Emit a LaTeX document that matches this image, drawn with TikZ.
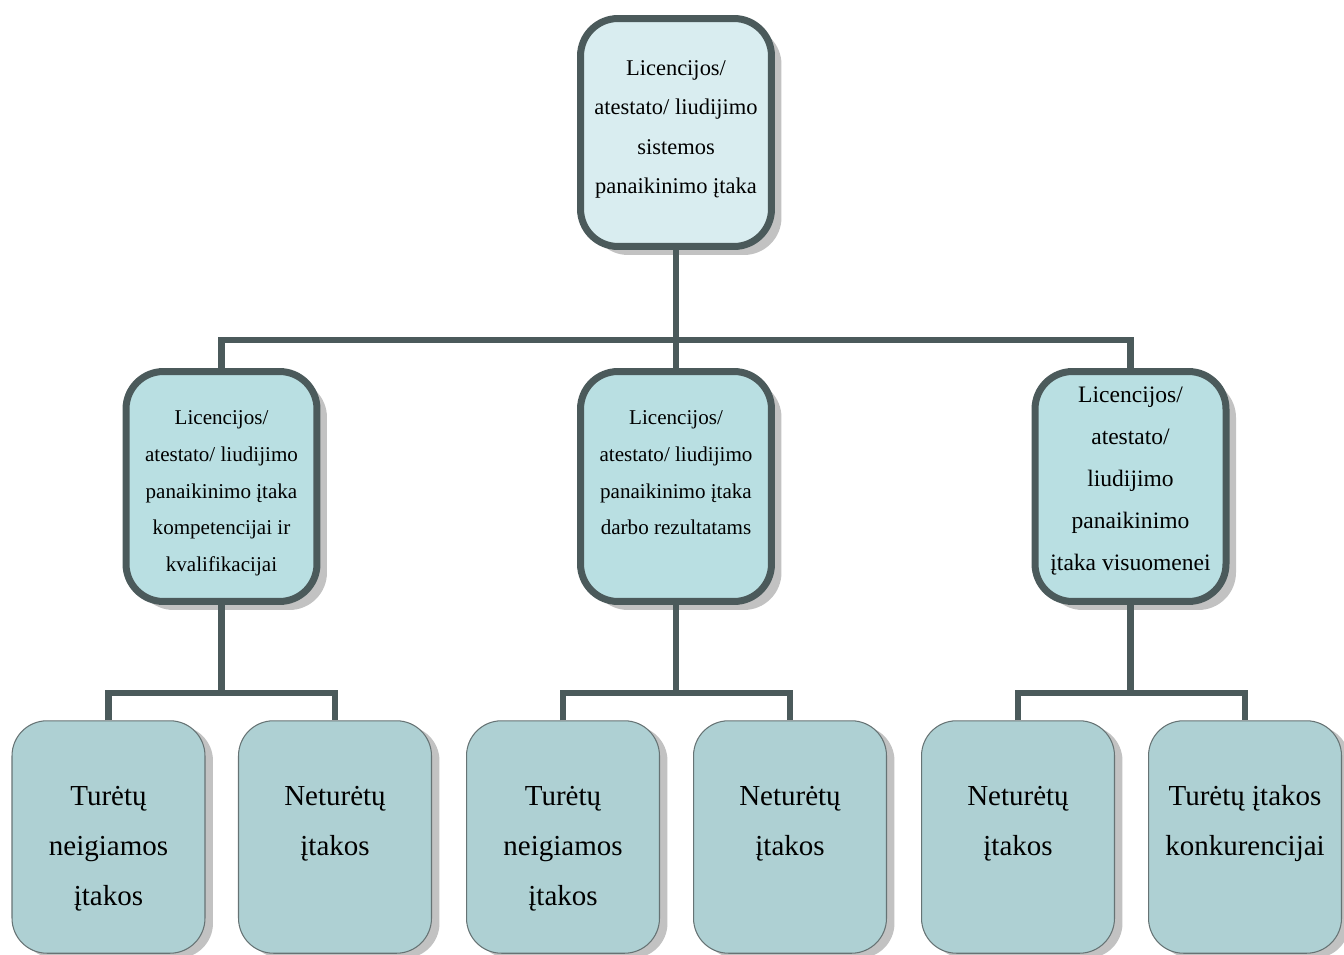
\documentclass[tikz,border=0pt]{standalone}
\usepackage{fontspec}
\setmainfont{Liberation Serif}
\usetikzlibrary{shadows}

\definecolor{frame}{HTML}{4B5A5B}
\definecolor{topfill}{HTML}{D9EDF0}
\definecolor{midfill}{HTML}{B9DFE2}
\definecolor{lowfill}{HTML}{AED0D3}
\definecolor{shade}{HTML}{C2C2C2}

% text inside a box, first line placed from the top
\newcommand{\boxtext}[4]{\parbox[c][#1][t]{#2}{\centering\vspace*{#3}\strut#4}}

\begin{document}
\begin{tikzpicture}[x=0.02cm,y=-0.02cm,
  bigbox/.style={rounded corners=0.75cm, draw=frame, line width=0.14cm, inner sep=0pt,
    minimum width=3.82cm, drop shadow={shadow xshift=0.2cm, shadow yshift=-0.17cm, fill=shade, opacity=1}},
  lowbox/.style={rounded corners=0.7cm, draw=frame!85, line width=0.6pt, fill=lowfill, inner sep=0pt,
    minimum width=3.86cm, minimum height=4.65cm,
    drop shadow={shadow xshift=0.16cm, shadow yshift=-0.1cm, fill=shade, opacity=1}},
  link/.style={draw=frame, line width=0.13cm}]
\useasboundingbox (0,0) rectangle (1344,955);

% top level
\node[bigbox, fill=topfill, minimum height=4.56cm] (top) at (676,132.5)
  {\fontsize{12.8}{22.4}\selectfont\boxtext{4.56cm}{3.6cm}{16.7pt}{Licencijos/\\atestato/ liudijimo\\sistemos\\panaikinimo įtaka}};

% second level
\node[bigbox, fill=midfill, minimum height=4.6cm] (ml) at (221.5,486.5)
  {\fontsize{12}{21}\selectfont\boxtext{4.6cm}{3.6cm}{15.3pt}{Licencijos/\\atestato/ liudijimo\\panaikinimo įtaka\\kompetencijai ir\\kvalifikacijai}};
\node[bigbox, fill=midfill, minimum height=4.6cm] (mc) at (676,486.5)
  {\fontsize{12}{21}\selectfont\boxtext{4.6cm}{3.6cm}{15.3pt}{Licencijos/\\atestato/ liudijimo\\panaikinimo įtaka\\darbo rezultatams}};
\node[bigbox, fill=midfill, minimum height=4.6cm] (mr) at (1130.5,486.5)
  {\fontsize{13.4}{23.9}\selectfont\boxtext{4.6cm}{3.6cm}{1pt}{Licencijos/\\atestato/\\liudijimo\\panaikinimo\\įtaka visuomenei}};

% third level
\node[lowbox] (b1) at (108.5,837)
  {\fontsize{16.5}{28.5}\selectfont\boxtext{4.65cm}{3.6cm}{28pt}{Turėtų\\neigiamos\\įtakos}};
\node[lowbox] (b2) at (335,837)
  {\fontsize{16.5}{28.5}\selectfont\boxtext{4.65cm}{3.6cm}{28pt}{Neturėtų\\įtakos}};
\node[lowbox] (b3) at (563,837)
  {\fontsize{16.5}{28.5}\selectfont\boxtext{4.65cm}{3.6cm}{28pt}{Turėtų\\neigiamos\\įtakos}};
\node[lowbox] (b4) at (790,837)
  {\fontsize{16.5}{28.5}\selectfont\boxtext{4.65cm}{3.6cm}{28pt}{Neturėtų\\įtakos}};
\node[lowbox] (b5) at (1018,837)
  {\fontsize{16.5}{28.5}\selectfont\boxtext{4.65cm}{3.6cm}{28pt}{Neturėtų\\įtakos}};
\node[lowbox] (b6) at (1245,837)
  {\fontsize{16.5}{28.5}\selectfont\boxtext{4.65cm}{3.6cm}{28pt}{Turėtų įtakos\\konkurencijai}};

% connectors
\coordinate (bus) at (676,340);
\coordinate (busl) at (221.5,693);
\coordinate (busc) at (676,693);
\coordinate (busr) at (1130.5,693);
\draw[link] (top) -- (mc);
\draw[link] (ml) |- (bus) -| (mr);
\draw[link] (ml) -- (busl);
\draw[link] (b1) |- (busl) -| (b2);
\draw[link] (mc) -- (busc);
\draw[link] (b3) |- (busc) -| (b4);
\draw[link] (mr) -- (busr);
\draw[link] (b5) |- (busr) -| (b6);
\end{tikzpicture}
\end{document}
